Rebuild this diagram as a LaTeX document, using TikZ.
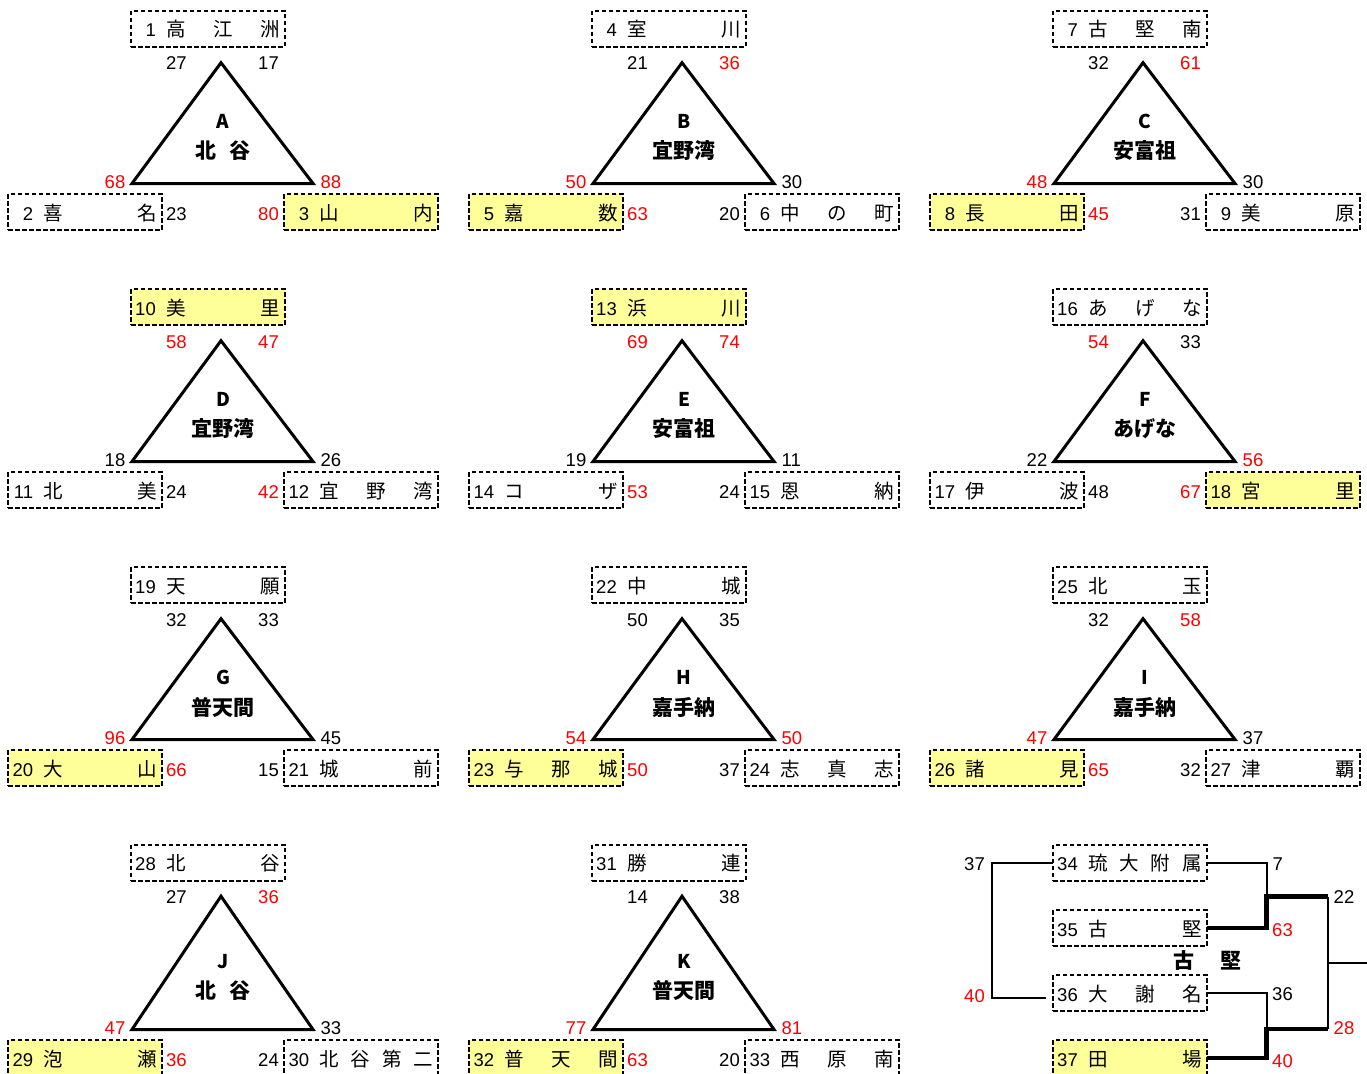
\documentclass[tikz,border=0pt]{standalone}
\usepackage{fontspec}
\setmainfont{Liberation Sans}
\newfontfamily\jp{Noto Sans CJK JP}
\usetikzlibrary{calc}
\definecolor{tyellow}{HTML}{FFFF99}
\definecolor{tred}{HTML}{FF0000}
\newcommand\rd[1]{\textcolor{tred}{#1}}

\tikzset{
  teambox/.style={draw, dash pattern=on 4.5pt off 2.5pt, line width=2pt, minimum width=153.5pt, minimum height=36pt, inner sep=0pt, outer sep=0pt, anchor=north west},
  numtxt/.style={font=\fontsize{18.5}{20}\selectfont, inner sep=0pt, anchor=base east},
  chartxt/.style={font=\jp\fontsize{19.5}{21}\selectfont, inner sep=0pt, anchor=base},
  lab/.style={font=\fontsize{18.5}{20}\selectfont, inner sep=0pt, anchor=base},
  tri/.style={line width=3pt, line join=miter},
  ttlL/.style={font=\jp\bfseries\fontsize{19}{21}\selectfont, inner sep=0pt},
  ttlT/.style={font=\jp\bfseries\fontsize{21}{23}\selectfont, inner sep=0pt},
  bthin/.style={line width=2pt},
  bthick/.style={line width=4.5pt},
}

% #1 name, #2 L, #3 T, #4 fill, #5 number, #6 count of chars, #7 chars
\newcommand\tbox[7]{%
  \node[teambox, fill=#4] (#1) at (#2,#3) {};
  \node[numtxt] (#1-n) at (#2+25, #3+26) {#5};
  \foreach \ch [count=\ci] in {#7} {
    \pgfmathsetmacro\cx{#2+45+(\ci-1)*94/(#6-1)}
    \node[chartxt] (#1-c\ci) at (\cx, #3+26) {\ch};
  }
}
\newcommand\setgrp[4]{\def\gid{#1}\def\gx{#2}\def\gyt{#3}\def\gyb{#4}}
\newcommand\topbox[5]{\tbox{#1}{\gx+131}{\gyt+11}{#2}{#3}{#4}{#5}}
\newcommand\lbox[5]{\tbox{#1}{\gx+8.3}{\gyb+194}{#2}{#3}{#4}{#5}}
\newcommand\rbox[5]{\tbox{#1}{\gx+284.3}{\gyb+194}{#2}{#3}{#4}{#5}}
\newcommand\tri[2]{%
  \coordinate (\gid-a) at (\gx+221, \gyt+62.7);
  \coordinate (\gid-l) at (\gx+132, \gyb+183.5);
  \coordinate (\gid-r) at (\gx+313, \gyb+183.5);
  \draw[tri] (\gid-a) -- (\gid-l) -- (\gid-r) -- cycle;
  \node[ttlL] (\gid-L) at (\gx+223, {(\gyt+\gyb)/2+121.5}) {#1};
  \node[ttlT] (\gid-T) at (\gx+223, {(\gyt+\gyb)/2+151}) {#2};
}
\newcommand\labs[6]{%
  \node[lab] (\gid-tl) at (\gx+176.5, \gyt+70) {#1};
  \node[lab] (\gid-tr) at (\gx+268.5, \gyt+70) {#2};
  \node[lab, anchor=base east] (\gid-bl) at (\gx+125.5, \gyb+188.3) {#3};
  \node[lab, anchor=base west] (\gid-br) at (\gx+320.5, \gyb+188.3) {#4};
  \node[lab] (\gid-ul) at (\gx+176.5, \gyb+220) {#5};
  \node[lab] (\gid-ur) at (\gx+268.5, \gyb+220) {#6};
}

\begin{document}
\begin{tikzpicture}[x=1pt,y=-1pt]
\fill[white] (0,0) rectangle (1367,1073);
\useasboundingbox (0,0) rectangle (1367,1073);

% Row 1
\setgrp{A}{0}{0}{0}
\tri{A}{北\hspace{14pt}谷}
\labs{27}{17}{\rd{68}}{\rd{88}}{23}{\rd{80}}
\topbox{t1}{white}{1}{3}{高,江,洲}
\lbox{t2}{white}{2}{2}{喜,名}
\rbox{t3}{tyellow}{3}{2}{山,内}

\setgrp{B}{461}{0}{0}
\tri{B}{宜野湾}
\labs{21}{\rd{36}}{\rd{50}}{30}{\rd{63}}{20}
\topbox{t4}{white}{4}{2}{室,川}
\lbox{t5}{tyellow}{5}{2}{嘉,数}
\rbox{t6}{white}{6}{3}{中,の,町}

\setgrp{C}{922}{0}{0}
\tri{C}{安富祖}
\labs{32}{\rd{61}}{\rd{48}}{30}{\rd{45}}{31}
\topbox{t7}{white}{7}{3}{古,堅,南}
\lbox{t8}{tyellow}{8}{2}{長,田}
\rbox{t9}{white}{9}{2}{美,原}

% Row 2
\setgrp{D}{0}{278}{278}
\tri{D}{宜野湾}
\labs{\rd{58}}{\rd{47}}{18}{26}{24}{\rd{42}}
\topbox{t10}{tyellow}{10}{2}{美,里}
\lbox{t11}{white}{11}{2}{北,美}
\rbox{t12}{white}{12}{3}{宜,野,湾}

\setgrp{E}{461}{278}{278}
\tri{E}{安富祖}
\labs{\rd{69}}{\rd{74}}{19}{11}{\rd{53}}{24}
\topbox{t13}{tyellow}{13}{2}{浜,川}
\lbox{t14}{white}{14}{2}{コ,ザ}
\rbox{t15}{white}{15}{2}{恩,納}

\setgrp{F}{922}{278}{278}
\tri{F}{あげな}
\labs{\rd{54}}{33}{22}{\rd{56}}{48}{\rd{67}}
\topbox{t16}{white}{16}{3}{あ,げ,な}
\lbox{t17}{white}{17}{2}{伊,波}
\rbox{t18}{tyellow}{18}{2}{宮,里}

% Row 3
\setgrp{G}{0}{556}{556}
\tri{G}{普天間}
\labs{32}{33}{\rd{96}}{45}{\rd{66}}{15}
\topbox{t19}{white}{19}{2}{天,願}
\lbox{t20}{tyellow}{20}{2}{大,山}
\rbox{t21}{white}{21}{2}{城,前}

\setgrp{H}{461}{556}{556}
\tri{H}{嘉手納}
\labs{50}{35}{\rd{54}}{\rd{50}}{\rd{50}}{37}
\topbox{t22}{white}{22}{2}{中,城}
\lbox{t23}{tyellow}{23}{3}{与,那,城}
\rbox{t24}{white}{24}{3}{志,真,志}

\setgrp{I}{922}{556}{556}
\tri{I}{嘉手納}
\labs{32}{\rd{58}}{\rd{47}}{37}{\rd{65}}{32}
\topbox{t25}{white}{25}{2}{北,玉}
\lbox{t26}{tyellow}{26}{2}{諸,見}
\rbox{t27}{white}{27}{2}{津,覇}

% Row 4
\setgrp{J}{0}{833.5}{846}
\tri{J}{北\hspace{14pt}谷}
\labs{27}{\rd{36}}{\rd{47}}{33}{\rd{36}}{24}
\topbox{t28}{white}{28}{2}{北,谷}
\lbox{t29}{tyellow}{29}{2}{泡,瀬}
\rbox{t30}{white}{30}{4}{北,谷,第,二}

\setgrp{K}{461}{833.5}{846}
\tri{K}{普天間}
\labs{14}{38}{\rd{77}}{\rd{81}}{\rd{63}}{20}
\topbox{t31}{white}{31}{2}{勝,連}
\lbox{t32}{tyellow}{32}{3}{普,天,間}
\rbox{t33}{white}{33}{3}{西,原,南}

% Bracket
\tbox{t34}{1053}{844.5}{white}{34}{4}{琉,大,附,属}
\tbox{t35}{1053}{910}{white}{35}{2}{古,堅}
\tbox{t36}{1053}{975}{white}{36}{3}{大,謝,名}
\tbox{t37}{1053}{1040}{tyellow}{37}{2}{田,場}
\node[ttlT] (kt) at (1207.5, 960.7) {古\hspace{26pt}堅};

\coordinate (jl1) at (991.7, 997.7);
\coordinate (jl2) at (1046, 997.7);
\coordinate (ja) at (1266.7, 896.7);
\coordinate (jb) at (1328.3, 896.7);
\coordinate (jc) at (1266.7, 1029);
\coordinate (jd) at (1328.3, 1029);
\coordinate (je) at (1328.3, 963.3);
\coordinate (jf) at (1367, 963.3);
\draw[bthin] (t34.west) -| (jl1) -- (jl2);
\draw[bthin] (t34.east) -| (ja);
\draw[bthin] (t36.east) -| (jc);
\draw[bthin] (jb) -- (jd);
\draw[bthin] (je) -- (jf);
\draw[bthick] (t35.east) -| (ja) -- (jb);
\draw[bthick] (t37.east) -| (jc) -- (jd);

\node[lab, anchor=base east] (b37) at (985, 870.7) {37};
\node[lab, anchor=base east] (b40) at (985, 1002) {\rd{40}};
\node[lab, anchor=base west] (r7) at (1272.5, 870) {7};
\node[lab, anchor=base west] (r63) at (1272, 936) {\rd{63}};
\node[lab, anchor=base west] (r22) at (1333.5, 903) {22};
\node[lab, anchor=base west] (r36) at (1272, 1000.7) {36};
\node[lab, anchor=base west] (r28) at (1333.5, 1034.3) {\rd{28}};
\node[lab, anchor=base west] (r40) at (1272, 1067.3) {\rd{40}};
\end{tikzpicture}
\end{document}
